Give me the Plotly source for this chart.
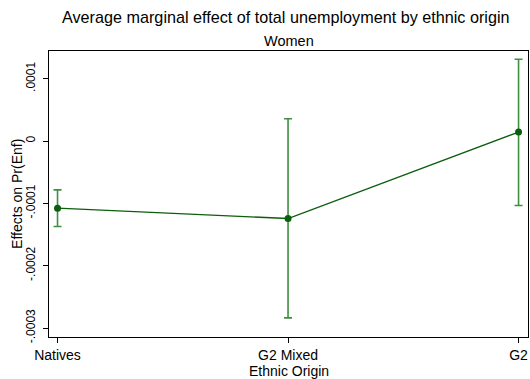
import plotly.graph_objects as go

# Average marginal effects with 95% confidence intervals
categories = ["Natives", "G2 Mixed", "G2"]
effects = [-0.0001077, -0.0001243, 0.0000144]
ci_lower = [-0.0001371, -0.0002837, -0.0001035]
ci_upper = [-0.0000784, 0.0000357, 0.0001312]

y_tick_vals = [0.0001, 0.0, -0.0001, -0.0002, -0.0003]
y_tick_text = [".0001", "0", "-.0001", "-.0002", "-.0003"]

FONT = "Liberation Sans, Arial, sans-serif"
LINE_GREEN = "#0b5e0b"
CI_GREEN = "#3f8f3f"

err_plus = [u - e for u, e in zip(ci_upper, effects)]
err_minus = [e - l for e, l in zip(effects, ci_lower)]

fig = go.Figure()
fig.add_trace(go.Scatter(
    x=categories,
    y=effects,
    mode="lines+markers",
    line=dict(color=LINE_GREEN, width=1.3),
    marker=dict(color=LINE_GREEN, size=7),
    error_y=dict(
        type="data",
        symmetric=False,
        array=err_plus,
        arrayminus=err_minus,
        color=CI_GREEN,
        thickness=1.6,
        width=4,
    ),
    showlegend=False,
))

axis_common = dict(
    showline=True,
    linecolor="black",
    linewidth=1.3,
    mirror=True,
    ticks="outside",
    ticklen=5,
    tickwidth=1.2,
    tickcolor="black",
    showgrid=False,
    zeroline=False,
)

fig.update_xaxes(
    type="category",
    range=[-0.037, 2.041],
    tickfont=dict(family=FONT, size=14, color="black"),
    **axis_common,
)
fig.update_yaxes(
    range=[-0.0003144, 0.0001445],
    tickvals=y_tick_vals,
    ticktext=y_tick_text,
    tickangle=-90,
    ticklabelstandoff=3,
    tickfont=dict(family=FONT, size=12, color="black"),
    **axis_common,
)

fig.update_layout(
    width=530,
    height=379,
    margin=dict(l=49, r=2, t=51, b=42),
    paper_bgcolor="white",
    plot_bgcolor="white",
    font=dict(family=FONT, color="black"),
    annotations=[
        dict(text="Average marginal effect of total unemployment by ethnic origin",
             xref="paper", yref="paper", x=(286 - 49) / 479, y=(337 - 17) / 286,
             xanchor="center", yanchor="middle", showarrow=False,
             font=dict(family=FONT, size=16.2, color="black")),
        dict(text="Women", xref="paper", yref="paper", x=0.5, y=1.035,
             xanchor="center", yanchor="middle", showarrow=False,
             font=dict(family=FONT, size=14.5, color="black")),
        dict(text="Ethnic Origin", xref="paper", yref="paper", x=0.5, y=-0.118,
             xanchor="center", yanchor="middle", showarrow=False,
             font=dict(family=FONT, size=14, color="black")),
        dict(text="Effects on Pr(Enf)", xref="paper", yref="paper", x=-0.067, y=0.5,
             xanchor="center", yanchor="middle", showarrow=False, textangle=-90,
             font=dict(family=FONT, size=14, color="black")),
    ],
)

fig.write_html("out.html")
